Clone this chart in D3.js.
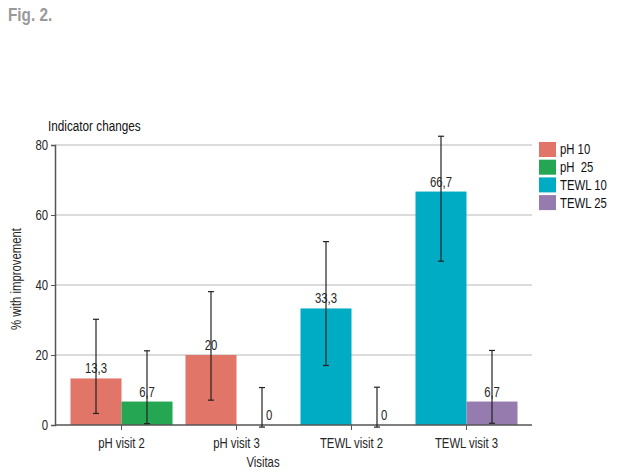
<!DOCTYPE html>
<html><head><meta charset="utf-8">
<script src="https://cdn.jsdelivr.net/npm/d3@7"></script>
<style>
html,body{margin:0;padding:0;background:#fff;}
svg text{font-family:"Liberation Sans",Arial,sans-serif;}
</style></head>
<body><svg id="c" width="623" height="474"></svg>
<script>
const categories = ["pH visit 2","pH visit 3","TEWL visit 2","TEWL visit 3"];
const firstSeries = ["pH 10","pH 10","TEWL 10","TEWL 10"];
const secondSeries = ["pH 25","pH 25","TEWL 25","TEWL 25"];
const firstValues = [13.3, 20, 33.3, 66.7];
const secondValues = [6.7, 0, 0, 6.7];
const firstErrLow = [3.3, 7.1, 17.0, 46.8];
const firstErrHigh = [30.2, 38.1, 52.4, 82.5];
const secondErrLow = [0.4, -0.6, -0.6, 0.5];
const secondErrHigh = [21.2, 10.7, 10.8, 21.3];
const firstLabels = ["13,3","20","33,3","66,7"];
const secondLabels = ["6,7","0","0","6,7"];
const legendNames = ["pH 10","pH  25","TEWL 10","TEWL 25"];
const legendKeys = ["pH 10","pH 25","TEWL 10","TEWL 25"];
const yTicks = [0,20,40,60,80];

const colors = {"pH 10":"#E17567","pH 25":"#25A652","TEWL 10":"#00ABC4","TEWL 25":"#967BAE"};
const SQ = 0.81; // horizontal condensing of text
const TXT = "#262626";

const svg = d3.select("#c");
const axL = 55, axR = 532, axT = 145, axB = 425;

function squish(sel, s){
  s = s || SQ;
  sel.each(function(){
    const t = d3.select(this);
    const x = +(t.attr("x") || 0);
    const prev = t.attr("transform") || "";
    t.attr("transform", `${prev} translate(${x},0) scale(${s},1) translate(${-x},0)`);
  });
  return sel;
}

const y = d3.scaleLinear().domain([0,80]).range([axB, axT]);
const x0 = d3.scaleBand().domain(categories).range([64,524]).paddingInner(0.113).paddingOuter(0.0565);
const x1 = d3.scaleBand().domain([0,1]).range([0, x0.bandwidth()]);

// title
squish(svg.append("text").attr("x",8).attr("y",21).attr("font-size",18).attr("font-weight","bold")
  .attr("fill","#999").text("Fig. 2."), 0.85);

// gridlines
svg.append("g").selectAll("line").data(yTicks.filter(d=>d>0)).join("line")
  .attr("x1",axL).attr("x2",axR).attr("y1",d=>y(d)).attr("y2",d=>y(d))
  .attr("stroke","#cfcfcf").attr("stroke-width",1.5);

// y axis
const yAxis = svg.append("g").attr("transform",`translate(${axL},0)`)
  .call(d3.axisLeft(y).tickValues(yTicks).tickSize(4).tickPadding(3));
yAxis.select(".domain").attr("stroke","#555").attr("stroke-width",1.5);
yAxis.selectAll(".tick line").attr("stroke","#555");
squish(yAxis.selectAll(".tick text").attr("font-size",14).attr("fill",TXT));

// bars
const rows = categories.map((c,i)=>[
  {cat:c, k:0, key:firstSeries[i], v:firstValues[i], lo:firstErrLow[i], hi:firstErrHigh[i], lab:firstLabels[i]},
  {cat:c, k:1, key:secondSeries[i], v:secondValues[i], lo:secondErrLow[i], hi:secondErrHigh[i], lab:secondLabels[i]}
]).flat();

svg.append("g").selectAll("rect").data(rows).join("rect")
  .attr("x",d=>x0(d.cat)+x1(d.k)).attr("width",x1.bandwidth())
  .attr("y",d=>y(d.v)).attr("height",d=>y(0)-y(d.v))
  .attr("fill",d=>colors[d.key]);

// x axis
const xAxis = svg.append("g").attr("transform",`translate(0,${axB})`)
  .call(d3.axisBottom(x0).tickSize(5).tickPadding(8));
xAxis.select(".domain").attr("d",`M${axL},0H${axR}`).attr("stroke","#555").attr("stroke-width",1.5);
xAxis.selectAll(".tick line").attr("stroke","#555");
squish(xAxis.selectAll(".tick text").attr("font-size",14).attr("fill",TXT));

// error bars
const eb = svg.append("g").attr("stroke","#222").attr("stroke-width",1.2);
rows.forEach(d=>{
  const cx = x0(d.cat)+x1(d.k)+x1.bandwidth()/2;
  eb.append("line").attr("x1",cx).attr("x2",cx).attr("y1",y(d.lo)).attr("y2",y(d.hi));
  eb.append("line").attr("x1",cx-3).attr("x2",cx+3).attr("y1",y(d.lo)).attr("y2",y(d.lo));
  eb.append("line").attr("x1",cx-3).attr("x2",cx+3).attr("y1",y(d.hi)).attr("y2",y(d.hi));
});

// value labels
squish(svg.append("g").selectAll("text").data(rows).join("text")
  .attr("x",d=>x0(d.cat)+x1(d.k)+x1.bandwidth()/2 + (d.v===0?4:0))
  .attr("y",d=>y(d.v)-5)
  .attr("text-anchor",d=>d.v===0?"start":"middle")
  .attr("font-size",14).attr("fill",TXT).text(d=>d.lab));

// axis titles
squish(svg.append("text").attr("x",48).attr("y",131).attr("font-size",14.5).attr("fill","#111").text("Indicator changes"));
svg.append("text").attr("transform",`translate(21,279) rotate(-90) scale(${SQ},1)`).attr("text-anchor","middle")
  .attr("font-size",14).attr("fill",TXT).text("% with improvement");
squish(svg.append("text").attr("x",263).attr("y",467).attr("text-anchor","middle")
  .attr("font-size",14).attr("fill",TXT).text("Visitas"));

// legend
const lg = svg.append("g");
legendKeys.forEach((k,i)=>{
  const ty = 142 + i*17.7;
  lg.append("rect").attr("x",539).attr("y",ty).attr("width",17).attr("height",15).attr("fill",colors[k]);
  squish(lg.append("text").attr("x",560).attr("y",ty+12.5).attr("font-size",14).attr("fill","#111")
    .style("white-space","pre").text(legendNames[i]));
});
</script></body></html>
